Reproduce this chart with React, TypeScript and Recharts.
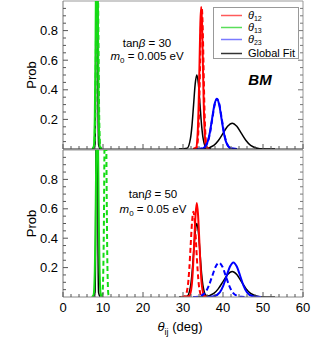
import React from 'react';
import { LineChart, Line, XAxis, YAxis, Legend, ReferenceLine } from 'recharts';

type Pt = [number, number];

// axis ticks
const xLabelTicks = [0, 10, 20, 30, 40, 50, 60];
const xAllTicks = [0, 2, 4, 6, 8, 10, 12, 14, 16, 18, 20, 22, 24, 26, 28, 30, 32, 34, 36, 38, 40, 42, 44, 46, 48, 50, 52, 54, 56, 58, 60];
const yLabelTicks = [0.2, 0.4, 0.6, 0.8];
const yAllTicks = [0.05, 0.1, 0.15, 0.2, 0.25, 0.3, 0.35, 0.4, 0.45, 0.5, 0.55, 0.6, 0.65, 0.7, 0.75, 0.8, 0.85, 0.9, 0.95];

// global fit (same in both panels)
const fit12: Pt[] = [[29, 0], [31.05, 0.006], [31.85, 0.068], [32.25, 0.16], [32.65, 0.3], [33.05, 0.44], [33.45, 0.5], [33.85, 0.44], [34.25, 0.3], [34.65, 0.16], [35.05, 0.068], [35.85, 0.006], [37, 0]];
const fit13: Pt[] = [[7.6, 0], [8.0, 0.03], [8.15, 0.36], [8.23, 1.0], [8.3, 1.6], [8.38, 2.3], [8.45, 2.66], [8.53, 2.3], [8.6, 1.6], [8.68, 1.0], [8.75, 0.36], [8.9, 0.03], [9.3, 0]];
const fit23: Pt[] = [[33, 0], [35.4, 0.002], [37.7, 0.024], [38.85, 0.057], [40.0, 0.105], [41.15, 0.153], [42.3, 0.174], [43.45, 0.153], [44.6, 0.105], [45.75, 0.057], [46.9, 0.024], [49.2, 0.002], [53, 0]];

// tanβ = 30, m0 = 0.005 eV
const th12Solid30: Pt[] = [[32.5, 0], [33.29, 0.01], [33.71, 0.13], [33.92, 0.31], [34.13, 0.58], [34.34, 0.85], [34.55, 0.96], [34.76, 0.85], [34.97, 0.58], [35.18, 0.31], [35.39, 0.13], [35.81, 0.01], [36.5, 0]];
const th12Dash30: Pt[] = [[32.6, 0], [33.44, 0.01], [33.86, 0.13], [34.07, 0.31], [34.28, 0.58], [34.49, 0.84], [34.7, 0.95], [34.91, 0.84], [35.12, 0.58], [35.33, 0.31], [35.54, 0.13], [35.96, 0.01], [36.6, 0]];
const th13Solid30: Pt[] = [[7.3, 0], [7.7, 0.018], [7.95, 0.22], [8.08, 0.52], [8.2, 0.97], [8.33, 1.41], [8.45, 1.6], [8.58, 1.41], [8.7, 0.97], [8.83, 0.52], [8.95, 0.22], [9.2, 0.018], [9.6, 0]];
const th13Dash30: Pt[] = [[7.4, 0], [7.8, 0.018], [8.05, 0.22], [8.18, 0.52], [8.3, 0.97], [8.43, 1.41], [8.55, 1.6], [8.68, 1.41], [8.8, 0.97], [8.93, 0.52], [9.05, 0.22], [9.3, 0.018], [9.7, 0]];
const th23Solid30: Pt[] = [[33.5, 0], [34.94, 0.004], [36.11, 0.046], [36.7, 0.11], [37.28, 0.206], [37.87, 0.3], [38.45, 0.34], [39.04, 0.3], [39.62, 0.206], [40.21, 0.11], [40.79, 0.046], [41.96, 0.004], [43.5, 0]];
const th23Dash30: Pt[] = [[33.6, 0], [35.0, 0.004], [36.17, 0.046], [36.76, 0.11], [37.34, 0.206], [37.93, 0.3], [38.5, 0.34], [39.1, 0.3], [39.68, 0.206], [40.27, 0.11], [40.85, 0.046], [42.02, 0.004], [43.6, 0]];

// tanβ = 50, m0 = 0.05 eV
const th12Solid50: Pt[] = [[30.5, 0], [31.59, 0.007], [32.21, 0.086], [32.52, 0.21], [32.83, 0.39], [33.14, 0.56], [33.45, 0.64], [33.76, 0.56], [34.07, 0.39], [34.38, 0.21], [34.69, 0.086], [35.31, 0.007], [36.3, 0]];
const th12Dash50: Pt[] = [[29.5, 0], [30.53, 0.006], [31.22, 0.078], [31.57, 0.19], [31.91, 0.35], [32.26, 0.51], [32.6, 0.58], [32.95, 0.51], [33.29, 0.35], [33.64, 0.19], [33.98, 0.078], [34.67, 0.006], [35.6, 0]];
const th13Solid50: Pt[] = [[7.2, 0], [7.65, 0.015], [7.95, 0.18], [8.1, 0.43], [8.25, 0.81], [8.4, 1.17], [8.55, 1.33], [8.7, 1.17], [8.85, 0.81], [9.0, 0.43], [9.15, 0.18], [9.45, 0.015], [9.9, 0]];
const th13Dash50: Pt[] = [[9.4, 0], [9.85, 0.018], [10.1, 0.22], [10.23, 0.52], [10.35, 0.97], [10.48, 1.41], [10.6, 1.6], [10.73, 1.41], [10.85, 0.97], [10.98, 0.52], [11.1, 0.22], [11.35, 0.018], [11.8, 0]];
const th23Solid50: Pt[] = [[36, 0], [37.5, 0.003], [39.2, 0.032], [40.05, 0.076], [40.9, 0.143], [41.75, 0.207], [42.6, 0.235], [43.45, 0.207], [44.3, 0.143], [45.15, 0.076], [46.0, 0.032], [47.7, 0.003], [49.5, 0]];
const th23Dash50: Pt[] = [[32.5, 0], [33.87, 0.003], [35.58, 0.031], [36.44, 0.076], [37.29, 0.141], [38.15, 0.206], [39.0, 0.233], [39.86, 0.206], [40.71, 0.141], [41.57, 0.076], [42.42, 0.031], [44.13, 0.003], [45.5, 0]];

const RED = '#ff0000';
const GREEN = '#14dc14';
const BLUE = '#0000ff';
const BLACK = '#000000';

const legendItems = [
  { sym: '12', color: '#ff5a5a' },
  { sym: '13', color: '#5ade5a' },
  { sym: '23', color: '#7a7aff' },
  { sym: '', color: '#333333' },
];
const legendRowY = [11, 23, 35, 49];

const FONT = '"Liberation Sans", Arial, sans-serif';

type Series = { data: Pt[]; color: string; dashed?: boolean; width?: number };

const topSeries: Series[] = [
  { data: fit13, color: BLACK, width: 1.5 },
  { data: fit12, color: BLACK, width: 1.5 },
  { data: fit23, color: BLACK, width: 1.5 },
  { data: th13Solid30, color: GREEN },
  { data: th12Solid30, color: RED },
  { data: th23Solid30, color: BLUE },
  { data: th13Dash30, color: GREEN, dashed: true },
  { data: th12Dash30, color: RED, dashed: true },
  { data: th23Dash30, color: BLUE, dashed: true },
];

const bottomSeries: Series[] = [
  { data: fit13, color: BLACK, width: 1.5 },
  { data: fit12, color: BLACK, width: 1.5 },
  { data: fit23, color: BLACK, width: 1.5 },
  { data: th13Solid50, color: GREEN },
  { data: th12Solid50, color: RED },
  { data: th23Solid50, color: BLUE },
  { data: th13Dash50, color: GREEN, dashed: true },
  { data: th12Dash50, color: RED, dashed: true },
  { data: th23Dash50, color: BLUE, dashed: true },
];

const toRows = (pts: Pt[]) => pts.map(([x, y]) => ({ x, y }));

// tick marks point into the frame, like a Mathematica frame
function XTick(props: any) {
  const { x, y, payload, showLabel } = props;
  const major = xLabelTicks.includes(payload.value);
  return (
    <g>
      <line x1={x} x2={x} y1={y} y2={y - (major ? 5 : 3)} stroke="#555" strokeWidth={1} />
      {showLabel && major && (
        <text x={x} y={y + 15} textAnchor="middle" fontSize={13} fontFamily={FONT} fill="#000">
          {payload.value}
        </text>
      )}
    </g>
  );
}

function LeftTick(props: any) {
  const { x, y, payload } = props;
  const v = Math.round(payload.value * 100) / 100;
  const major = yLabelTicks.includes(v);
  return (
    <g>
      <line x1={x} x2={x + (major ? 5 : 3)} y1={y} y2={y} stroke="#555" strokeWidth={1} />
      {major && (
        <text x={x - 5} y={y + 4.5} textAnchor="end" fontSize={13} fontFamily={FONT} fill="#000">
          {v}
        </text>
      )}
    </g>
  );
}

function RightTick(props: any) {
  const { x, y, payload } = props;
  const v = Math.round(payload.value * 100) / 100;
  const major = yLabelTicks.includes(v);
  return <line x1={x} x2={x - (major ? 5 : 3)} y1={y} y2={y} stroke="#777" strokeWidth={1} />;
}

function LegendBox() {
  return (
    <div style={{ width: 86, height: 52, border: '1px solid #999', background: '#fff', boxSizing: 'border-box', fontFamily: FONT, fontSize: 11 }}>
      <svg width={84} height={50}>
        {legendItems.map((it, i) => (
          <g key={i}>
            <line x1={7} x2={28} y1={legendRowY[i] - 3.5} y2={legendRowY[i] - 3.5} stroke={it.color} strokeWidth={1.5} />
            <text x={34} y={legendRowY[i]} fill="#000">
              {it.sym ? (
                <>
                  <tspan fontStyle="italic">θ</tspan>
                  <tspan fontSize={7} dy={1.5}>{it.sym}</tspan>
                </>
              ) : (
                'Global Fit'
              )}
            </text>
          </g>
        ))}
      </svg>
    </div>
  );
}

function Panel({ series, showXLabels, height, marginTop }: { series: Series[]; showXLabels: boolean; height: number; marginTop: number }) {
  return (
    <LineChart width={325} height={height} margin={{ top: marginTop, right: 0, bottom: 0, left: 8 }}>
      <XAxis
        xAxisId="x"
        type="number"
        dataKey="x"
        domain={[0, 60]}
        ticks={xAllTicks}
        interval={0}
        height={showXLabels ? 43 : 1}
        tickSize={0}
        tickMargin={0}
        tickLine={false}
        axisLine={{ stroke: showXLabels ? '#888' : '#222' }}
        tick={<XTick showLabel={showXLabels} />}
        allowDataOverflow
      />
      <YAxis
        yAxisId="l"
        type="number"
        domain={[0, 1]}
        ticks={yAllTicks}
        interval={0}
        width={55}
        tickSize={0}
        tickMargin={0}
        tickLine={false}
        axisLine={{ stroke: '#777' }}
        tick={<LeftTick />}
        allowDataOverflow
        label={{ value: 'Prob', angle: -90, position: 'center', dx: -4, style: { fontSize: 13, fontFamily: FONT, fill: '#000' } }}
      />
      <YAxis
        yAxisId="r"
        orientation="right"
        type="number"
        domain={[0, 1]}
        ticks={yAllTicks}
        interval={0}
        width={22}
        tickSize={0}
        tickMargin={0}
        tickLine={false}
        axisLine={{ stroke: '#999' }}
        tick={<RightTick />}
        allowDataOverflow
      />
      <ReferenceLine xAxisId="x" yAxisId="l" y={1} stroke="#999" strokeWidth={1} ifOverflow="visible" />
      {series.map((s, i) => (
        <Line
          key={i}
          xAxisId="x"
          yAxisId="l"
          data={toRows(s.data)}
          dataKey="y"
          type="monotone"
          stroke={s.color}
          strokeWidth={s.width ?? 2}
          strokeDasharray={s.dashed ? '5 3' : undefined}
          dot={false}
          activeDot={false}
          isAnimationActive={false}
        />
      ))}
      {!showXLabels && (
        <Legend
          layout="horizontal"
          verticalAlign="middle"
          align="center"
          content={() => <LegendBox />}
          wrapperStyle={{ position: 'absolute', left: 213, top: 7, width: 86, height: 52 }}
        />
      )}
    </LineChart>
  );
}

const note: React.CSSProperties = { position: 'absolute', fontFamily: FONT, fontSize: 11.5, textAlign: 'center', whiteSpace: 'nowrap', lineHeight: '13px' };

export default function App() {
  return (
    <div style={{ position: 'absolute', left: 0, top: 0, width: 325, height: 340, background: '#fff' }}>
      <div style={{ position: 'absolute', left: 0, top: 0 }}>
        <Panel series={topSeries} showXLabels={false} height={150} marginTop={1} />
      </div>
      <div style={{ position: 'absolute', left: 0, top: 150 }}>
        <Panel series={bottomSeries} showXLabels={true} height={190} marginTop={0} />
      </div>

      <div style={{ ...note, left: 107, top: 37, width: 80 }}>
        tan<i>β</i> = 30
      </div>
      <div style={{ ...note, left: 102, top: 50, width: 90 }}>
        <i>m</i><sub style={{ fontSize: 8 }}>0</sub> = 0.005 eV
      </div>
      <div style={{ ...note, left: 240, top: 73, width: 40, fontSize: 15, fontWeight: 'bold', fontStyle: 'italic' }}>BM</div>

      <div style={{ ...note, left: 113, top: 188, width: 80 }}>
        tan<i>β</i> = 50
      </div>
      <div style={{ ...note, left: 108, top: 203, width: 90 }}>
        <i>m</i><sub style={{ fontSize: 8 }}>0</sub> = 0.05 eV
      </div>

      <div style={{ ...note, left: 140, top: 319, width: 80, fontSize: 13, lineHeight: '15px' }}>
        <i>θ</i><sub style={{ fontSize: 9 }}>ij</sub> (deg)
      </div>
    </div>
  );
}
